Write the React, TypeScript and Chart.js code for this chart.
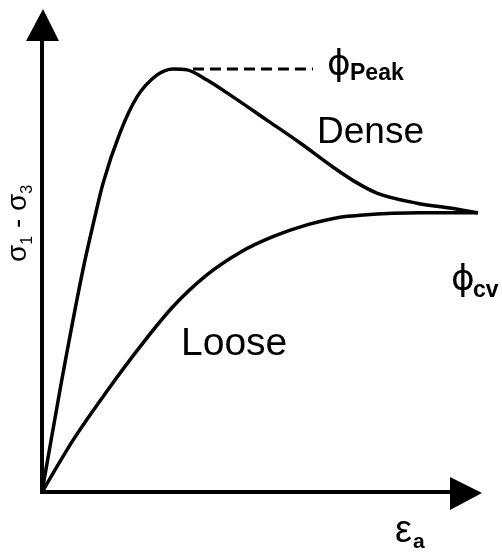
import React, { useEffect, useRef } from "react";
import { Chart, registerables } from "chart.js";

Chart.register(...registerables);

// Axial strain (arbitrary units, 0–10) for each curve
const denseStrain = [0, 0.43, 0.93, 1.2, 1.39, 1.77, 2.16, 2.61, 2.98, 3.3, 3.75, 4.34, 5.11, 5.86, 6.61, 7.16, 7.61, 8.52, 9.27, 9.91];
// Deviator stress for the dense sample (arbitrary units, 0–10)
const denseStress = [0, 2.22, 4.6, 5.69, 6.4, 7.43, 8.18, 8.63, 8.76, 8.74, 8.53, 8.18, 7.7, 7.23, 6.73, 6.4, 6.19, 5.98, 5.88, 5.78];

const looseStrain = [0, 0.71, 1.47, 2.23, 2.98, 3.74, 4.5, 5.26, 6.02, 6.77, 7.23, 8.59, 9.91];
const looseStress = [0, 1.08, 2.08, 3.01, 3.84, 4.49, 4.96, 5.29, 5.53, 5.69, 5.73, 5.78, 5.78];

// Peak-strength reference line
const peakStrain = [3.43, 6.16];
const peakStress = [8.76, 8.76];

const toPoints = (xs: number[], ys: number[]) => xs.map((x, i) => ({ x, y: ys[i] }));

const SANS = "'Liberation Sans', Arial, sans-serif";

const decorations = {
  id: "decorations",
  afterDraw(chart: any) {
    const { ctx, chartArea } = chart;
    const ox = chartArea.left;
    const oy = chartArea.bottom;
    ctx.save();
    ctx.fillStyle = "#000";
    ctx.strokeStyle = "#000";

    // axes
    ctx.lineWidth = 4;
    ctx.lineCap = "square";
    ctx.beginPath();
    ctx.moveTo(ox, 40);
    ctx.lineTo(ox, oy);
    ctx.lineTo(452, oy);
    ctx.stroke();

    // arrow heads
    ctx.beginPath();
    ctx.moveTo(ox + 1, 9);
    ctx.lineTo(ox - 16, 41);
    ctx.lineTo(ox + 17, 41);
    ctx.closePath();
    ctx.fill();
    ctx.beginPath();
    ctx.moveTo(482, oy + 1);
    ctx.lineTo(450, oy - 15);
    ctx.lineTo(450, oy + 18);
    ctx.closePath();
    ctx.fill();

    ctx.textBaseline = "alphabetic";
    ctx.textAlign = "left";

    ctx.font = `37px ${SANS}`;
    ctx.fillText("Dense", 317, 143);
    ctx.font = `39px ${SANS}`;
    ctx.fillText("Loose", 181, 355);

    ctx.font = "36px 'DejaVu Sans', sans-serif";
    ctx.fillText("ϕ", 327, 75);
    ctx.fillText("ϕ", 451, 290);
    ctx.font = `bold 23px ${SANS}`;
    ctx.fillText("Peak", 350, 80);
    ctx.fillText("cv", 473, 297);

    ctx.font = `38px ${SANS}`;
    ctx.fillText("ε", 395, 542);
    ctx.font = `bold 21px ${SANS}`;
    ctx.fillText("a", 413, 548);

    // vertical axis title
    ctx.translate(26, 262);
    ctx.rotate(-Math.PI / 2);
    let x = 0;
    const main = `28px ${SANS}`;
    const sub = `16px ${SANS}`;
    const parts: [string, string, number][] = [
      ["σ", main, 0],
      ["1", sub, 6],
      [" - ", main, 0],
      ["σ", main, 0],
      ["3", sub, 6],
    ];
    for (const [t, f, dy] of parts) {
      ctx.font = f;
      ctx.fillText(t, x, dy);
      x += ctx.measureText(t).width;
    }
    ctx.restore();
  },
};

export default function App() {
  const ref = useRef<HTMLCanvasElement | null>(null);

  useEffect(() => {
    if (!ref.current) return;
    const chart = new Chart(ref.current, {
      type: "line",
      data: {
        datasets: [
          {
            label: "Dense",
            data: toPoints(denseStrain, denseStress),
            borderColor: "#000",
            borderWidth: 3.5,
            cubicInterpolationMode: "monotone",
            pointRadius: 0,
            fill: false,
          },
          {
            label: "Loose",
            data: toPoints(looseStrain, looseStress),
            borderColor: "#000",
            borderWidth: 3.5,
            cubicInterpolationMode: "monotone",
            pointRadius: 0,
            fill: false,
          },
          {
            label: "Peak",
            data: toPoints(peakStrain, peakStress),
            borderColor: "#000",
            borderWidth: 3,
            borderDash: [11, 6],
            pointRadius: 0,
            fill: false,
          },
        ],
      },
      options: {
        responsive: false,
        animation: false,
        layout: { padding: { left: 42, right: 20, top: 9, bottom: 61 } },
        scales: {
          x: { type: "linear", min: 0, max: 10, display: false },
          y: { type: "linear", min: 0, max: 10, display: false },
        },
        plugins: { legend: { display: false }, tooltip: { enabled: false } },
      },
      plugins: [decorations],
    });
    return () => chart.destroy();
  }, []);

  return (
    <div style={{ position: "absolute", left: 0, top: 0, width: 502, height: 553, background: "#fff" }}>
      <canvas ref={ref} width={502} height={553} style={{ display: "block" }} />
    </div>
  );
}
